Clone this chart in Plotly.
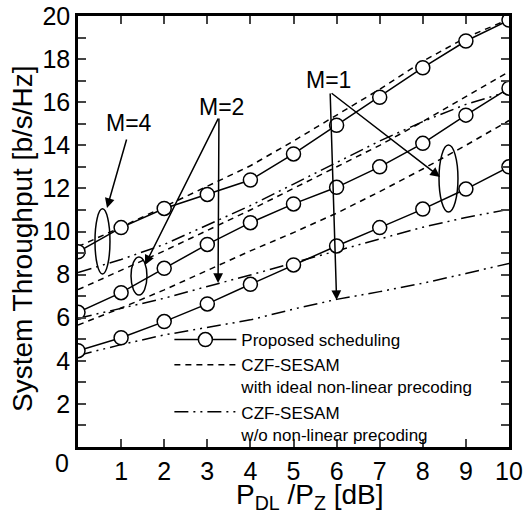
import plotly.graph_objects as go

# ---------------- data ----------------
snr_db = [0, 1, 2, 3, 4, 5, 6, 7, 8, 9, 10]

# Proposed scheduling
prop_m4 = [9.06, 10.18, 11.07, 11.72, 12.39, 13.6, 14.93, 16.23, 17.6, 18.84, 19.81]
prop_m2 = [6.25, 7.16, 8.29, 9.4, 10.41, 11.28, 12.05, 13.0, 14.09, 15.4, 16.65]
prop_m1 = [4.47, 5.07, 5.82, 6.64, 7.55, 8.45, 9.33, 10.18, 11.04, 11.97, 13.0]

# CZF-SESAM with ideal non-linear precoding
ideal_m4 = [9.3, 10.2, 11.15, 12.1, 13.05, 14.2, 15.4, 16.6, 17.9, 19.0, 19.85]
ideal_m2 = [7.3, 8.2, 9.1, 10.05, 11.0, 12.0, 13.0, 14.0, 15.1, 16.25, 17.42]
ideal_m1 = [5.66, 6.45, 7.29, 8.2, 9.1, 9.95, 10.85, 11.85, 12.9, 14.0, 15.15]

# CZF-SESAM w/o non-linear precoding
lin_m4 = [8.1, 8.7, 9.4, 10.3, 11.2, 12.2, 13.2, 14.2, 15.1, 15.9, 16.5]
lin_m2 = [5.97, 6.45, 6.9, 7.45, 7.98, 8.55, 9.1, 9.68, 10.2, 10.65, 11.03]
lin_m1 = [4.25, 4.75, 5.2, 5.55, 5.9, 6.4, 6.85, 7.21, 7.6, 8.05, 8.52]

x_ticks = [1, 2, 3, 4, 5, 6, 7, 8, 9, 10]
y_ticks = list(range(0, 21))
y_text = [str(v) if (v % 2 == 0 and v > 0) else "" for v in y_ticks]

legend_names = ["Proposed scheduling",
                "CZF-SESAM<br>with ideal non-linear precoding",
                "CZF-SESAM<br>w/o non-linear precoding"]

FONT = "Arial, Liberation Sans, Helvetica, sans-serif"
DASH = "6px,5px"
DASHDOT = "14px,5px,2px,5px,2px,5px"

fig = go.Figure()

for i, ys in enumerate([ideal_m4, ideal_m2, ideal_m1]):
    fig.add_trace(go.Scatter(x=snr_db, y=ys, mode="lines",
                             line=dict(color="black", width=1.5, dash=DASH),
                             name=legend_names[1], legendgroup="ideal",
                             showlegend=(i == 0), legendrank=2))
for i, ys in enumerate([lin_m4, lin_m2, lin_m1]):
    fig.add_trace(go.Scatter(x=snr_db, y=ys, mode="lines",
                             line=dict(color="black", width=1.5, dash=DASHDOT),
                             name=legend_names[2], legendgroup="lin",
                             showlegend=(i == 0), legendrank=3))
for i, ys in enumerate([prop_m4, prop_m2, prop_m1]):
    fig.add_trace(go.Scatter(x=snr_db, y=ys, mode="lines+markers",
                             line=dict(color="black", width=1.5),
                             marker=dict(symbol="circle", size=14, color="white",
                                         line=dict(color="black", width=1.5)),
                             name=legend_names[0], legendgroup="prop",
                             showlegend=(i == 0), legendrank=1))

# ---------------- annotations ----------------
ann = []
def label(x, y, t):
    ann.append(dict(x=x, y=y, xref="x", yref="y", text=t, showarrow=False,
                    font=dict(family=FONT, size=23, color="black")))

def arrow(x0, y0, x1, y1):
    ann.append(dict(x=x1, y=y1, ax=x0, ay=y0, xref="x", yref="y", axref="x", ayref="y",
                    text="", showarrow=True, arrowhead=2,
                    arrowsize=1.3, arrowwidth=1.5, arrowcolor="black", standoff=0,
                    startstandoff=0))

label(1.18, 15.03, "M=4")
arrow(1.137, 14.34, 0.673, 11.09)
label(3.34, 15.78, "M=2")
arrow(3.27, 15.31, 1.555, 8.45)
arrow(3.27, 15.31, 3.25, 7.61)
label(5.82, 17.03, "M=1")
arrow(5.85, 16.47, 6.0, 6.82)
arrow(5.85, 16.47, 8.40, 12.53)

# corner "0" label
ann.append(dict(x=0, y=0, xref="x", yref="y", text="0", showarrow=False,
                xshift=-16, yshift=-16, xanchor="center", yanchor="middle",
                font=dict(family=FONT, size=25, color="black")))
# x-axis title
ann.append(dict(x=0.538, y=-0.115, xref="paper", yref="paper",
                text="P<sub>DL</sub> /P<sub>Z</sub> [dB]", showarrow=False,
                xanchor="center", yanchor="middle",
                font=dict(family=FONT, size=28, color="black")))
# y-axis title
ann.append(dict(x=-0.1276, y=0.4826, xref="paper", yref="paper",
                text="System Throughput [b/s/Hz]", showarrow=False, textangle=-90,
                xanchor="center", yanchor="middle",
                font=dict(family=FONT, size=28, color="black")))

shapes = []
for (x0, x1, y0, y1) in [(0.394, 0.742, 8.03, 11.05),
                         (1.23, 1.60, 7.05, 8.82),
                         (8.376, 8.816, 10.9, 14.01)]:
    shapes.append(dict(type="circle", xref="x", yref="y", x0=x0, x1=x1, y0=y0, y1=y1,
                       line=dict(color="black", width=1.5)))

fig.update_layout(
    width=524, height=511,
    margin=dict(l=78, r=15, t=16, b=64),
    paper_bgcolor="white", plot_bgcolor="white",
    font=dict(family=FONT, color="black"),
    annotations=ann, shapes=shapes,
    showlegend=True,
    legend=dict(x=0.212, y=0.290, xanchor="left", yanchor="top", valign="top",
                bgcolor="rgba(0,0,0,0)", borderwidth=0,
                font=dict(family=FONT, size=17, color="black"),
                tracegroupgap=0, itemwidth=62),
)
fig.update_xaxes(range=[0, 10], tickvals=x_ticks, ticks="inside", ticklen=8, tickwidth=1.5,
                 showline=True, linecolor="black", linewidth=2.5, mirror="ticks",
                 showgrid=False, zeroline=False, automargin=False,
                 tickfont=dict(family=FONT, size=25, color="black"))
fig.update_yaxes(range=[0, 20], tickvals=y_ticks, ticktext=y_text, ticks="inside", ticklen=8,
                 tickwidth=1.5, showline=True, linecolor="black", linewidth=2.5, mirror="ticks",
                 showgrid=False, zeroline=False, automargin=False,
                 tickfont=dict(family=FONT, size=25, color="black"))

fig.write_html("out.html")
